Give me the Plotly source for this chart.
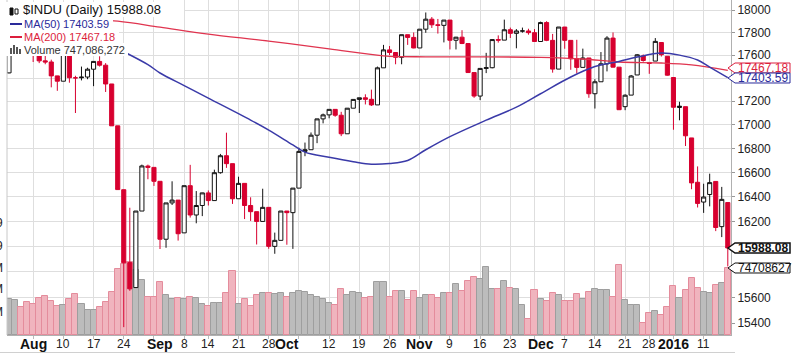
import math
import plotly.graph_objects as go

# ---------------- data ----------------
dates = ["2015-07-28","2015-07-29","2015-07-30","2015-07-31",
 "2015-08-03","2015-08-04","2015-08-05","2015-08-06","2015-08-07",
 "2015-08-10","2015-08-11","2015-08-12","2015-08-13","2015-08-14",
 "2015-08-17","2015-08-18","2015-08-19","2015-08-20","2015-08-21",
 "2015-08-24","2015-08-25","2015-08-26","2015-08-27","2015-08-28",
 "2015-08-31","2015-09-01","2015-09-02","2015-09-03","2015-09-04",
 "2015-09-08","2015-09-09","2015-09-10","2015-09-11",
 "2015-09-14","2015-09-15","2015-09-16","2015-09-17","2015-09-18",
 "2015-09-21","2015-09-22","2015-09-23","2015-09-24","2015-09-25",
 "2015-09-28","2015-09-29","2015-09-30","2015-10-01","2015-10-02",
 "2015-10-05","2015-10-06","2015-10-07","2015-10-08","2015-10-09",
 "2015-10-12","2015-10-13","2015-10-14","2015-10-15","2015-10-16",
 "2015-10-19","2015-10-20","2015-10-21","2015-10-22","2015-10-23",
 "2015-10-26","2015-10-27","2015-10-28","2015-10-29","2015-10-30",
 "2015-11-02","2015-11-03","2015-11-04","2015-11-05","2015-11-06",
 "2015-11-09","2015-11-10","2015-11-11","2015-11-12","2015-11-13",
 "2015-11-16","2015-11-17","2015-11-18","2015-11-19","2015-11-20",
 "2015-11-23","2015-11-24","2015-11-25","2015-11-27",
 "2015-11-30","2015-12-01","2015-12-02","2015-12-03","2015-12-04",
 "2015-12-07","2015-12-08","2015-12-09","2015-12-10","2015-12-11",
 "2015-12-14","2015-12-15","2015-12-16","2015-12-17","2015-12-18",
 "2015-12-21","2015-12-22","2015-12-23","2015-12-24",
 "2015-12-28","2015-12-29","2015-12-30","2015-12-31",
 "2016-01-04","2016-01-05","2016-01-06","2016-01-07","2016-01-08",
 "2016-01-11","2016-01-12","2016-01-13","2016-01-14","2016-01-15"]

opens = [17445,17630,17746,17750,
 17690,17598,17550,17540,17419,
 17373,17615,17402,17403,17409,
 17477,17545,17512,17349,16991,
 16459,15872,15676,16285,16654,
 16643,16528,16058,16351,16374,
 16109,16492,16253,16330,
 16433,16370,16599,16740,16674,
 16385,16511,16330,16280,16201,
 16315,16001,16049,16285,16272,
 16472,16776,16790,16912,17050,
 17084,17131,17081,16924,17141,
 17216,17230,17217,17169,17489,
 17646,17623,17581,17780,17756,
 17663,17829,17918,17868,17863,
 17910,17731,17758,17702,17448,
 17245,17484,17490,17737,17732,
 17824,17792,17813,17813,
 17798,17720,17888,17730,17478,
 17848,17730,17568,17493,17575,
 17265,17368,17524,17750,17495,
 17154,17253,17427,17593,
 17536,17548,17711,17590,
 17405,17147,17154,16889,16520,
 16358,16420,16527,16159,16354]

highs = [17640,17755,17770,17780,
 17700,17620,17660,17560,17420,
 17630,17615,17420,17500,17490,
 17546,17590,17530,17349,16991,
 16459,16312,16285,16666,16666,
 16643,16528,16351,16528,16374,
 16492,16664,16448,16434,
 16453,16624,16755,16933,16674,
 16566,16511,16397,16280,16467,
 16315,16111,16285,16285,16473,
 16807,16850,16935,17051,17095,
 17132,17131,17110,17142,17216,
 17230,17260,17300,17500,17690,
 17680,17623,17780,17780,17800,
 17830,17978,17937,17920,17910,
 17910,17761,17820,17702,17448,
 17484,17620,17738,17774,17914,
 17843,17830,17843,17833,
 17830,17896,17900,17787,17848,
 17848,17730,17735,17657,17575,
 17390,17627,17767,17800,17495,
 17260,17427,17610,17606,
 17536,17750,17714,17590,
 17405,17196,17154,16889,16651,
 16508,16591,16527,16482,16354]

lows = [17441,17600,17650,17670,
 17540,17530,17520,17320,17290,
 17373,17360,17100,17380,17390,
 17330,17500,17280,16990,16459,
 15370,15651,15676,16285,16545,
 16490,15980,15990,16334,16047,
 16109,16232,16186,16244,
 16330,16370,16591,16639,16343,
 16385,16220,16205,16016,16201,
 15982,15942,16049,16014,15981,
 16472,16736,16790,16845,17012,
 17055,17068,16904,16924,17141,
 17100,17173,17160,17169,17489,
 17600,17520,17520,17690,17660,
 17663,17797,17840,17790,17712,
 17650,17650,17697,17446,17230,
 17210,17443,17485,17710,17732,
 17751,17660,17798,17780,
 17720,17720,17723,17447,17478,
 17656,17472,17440,17493,17230,
 17138,17368,17458,17493,17128,
 17124,17253,17427,17543,
 17437,17548,17588,17421,
 16958,17038,16821,16463,16314,
 16270,16323,16123,16075,15842]

closes = [17630,17751,17746,17690,
 17598,17550,17540,17419,17373,
 17615,17403,17402,17408,17477,
 17545,17512,17349,16991,16460,
 15871,15666,16285,16655,16643,
 16528,16058,16351,16374,16102,
 16492,16253,16330,16433,
 16370,16599,16740,16674,16385,
 16511,16330,16280,16201,16315,
 16001,16049,16285,16272,16472,
 16776,16790,16912,17050,17084,
 17131,17081,16924,17141,17216,
 17230,17217,17169,17489,17646,
 17623,17581,17780,17756,17663,
 17829,17918,17868,17863,17910,
 17731,17758,17702,17448,17245,
 17484,17490,17737,17732,17824,
 17792,17813,17813,17798,
 17720,17888,17730,17478,17848,
 17730,17568,17493,17575,17265,
 17368,17524,17750,17495,17128,
 17252,17418,17603,17553,
 17528,17721,17604,17425,
 17149,17158,16907,16515,16347,
 16399,16517,16152,16380,15988.08]

prior_close = 17440

volumes_m = [407,388,307,370,
 344,414,440,377,322,
 340,407,462,344,277,
 277,307,370,481,732,
 795,814,721,610,425,
 425,592,451,407,414,
 407,425,414,344,
 322,359,359,470,710,
 344,407,322,451,470,
 470,455,470,425,470,
 496,477,451,422,396,
 359,333,518,451,481,
 470,414,425,592,592,
 425,488,488,388,488,
 414,444,444,414,470,
 470,573,488,599,644,
 621,754,518,511,603,
 525,518,333,174,
 499,407,377,470,451,
 377,377,455,407,481,
 510,499,499,425,784,
 388,333,333,137,
 240,266,222,307,
 547,414,499,640,529,
 481,470,562,584,747.086272]

ma50_dates = ["2015-08-24","2015-08-28","2015-09-01","2015-09-08","2015-09-14",
 "2015-09-23","2015-09-28","2015-10-02","2015-10-06","2015-10-12","2015-10-16",
 "2015-10-21","2015-10-26","2015-10-29","2015-11-03","2015-11-09","2015-11-17",
 "2015-11-24","2015-12-01","2015-12-08","2015-12-14","2015-12-18","2015-12-23",
 "2015-12-30","2016-01-05","2016-01-08","2016-01-12","2016-01-15"]
ma50_values = [17630,17517,17444,17335,17227,
 17040,16955,16830,16770,16727,16690,
 16669,16675,16700,16790,16900,17039,
 17150,17265,17409,17500,17545,17583,
 17618,17600,17557,17495,17403.59]

ma200_dates = ["2015-07-28","2015-08-10","2015-08-21","2015-09-01","2015-09-14",
 "2015-09-28","2015-10-12","2015-10-23","2015-11-03","2015-11-16","2015-12-01",
 "2015-12-10","2015-12-18","2015-12-30","2016-01-07","2016-01-15"]
ma200_values = [17960,17935,17900,17847,17786,
 17724,17655,17594,17585,17585,17580,
 17566,17540,17531,17514,17467.18]

price_ticks = [15400,15600,15800,16000,16200,16400,16600,16800,17000,
               17200,17400,17600,17800,18000]
price_tick_text = ["15400","15600","","","16200","16400","16600","16800","17000",
                   "17200","","17600","17800","18000"]

xlabel_dates = ["2015-08-03","2015-08-10","2015-08-17","2015-08-24","2015-09-01",
 "2015-09-08","2015-09-14","2015-09-21","2015-09-28","2015-10-01","2015-10-12",
 "2015-10-19","2015-10-26","2015-11-02","2015-11-09","2015-11-16","2015-11-23",
 "2015-12-01","2015-12-07","2015-12-14","2015-12-21","2015-12-28","2016-01-04",
 "2016-01-11"]
xlabel_text = ["Aug","10","17","24","Sep","8","14","21","28","Oct","12","19","26",
 "Nov","9","16","23","Dec","7","14","21","28","2016","11"]
xlabel_bold = ["Aug","Sep","Oct","Nov","Dec","2016"]

week_dates = ["2015-08-03","2015-08-10","2015-08-17","2015-08-24","2015-08-31",
 "2015-09-08","2015-09-14","2015-09-21","2015-09-28","2015-10-05","2015-10-12",
 "2015-10-19","2015-10-26","2015-11-02","2015-11-09","2015-11-16","2015-11-23",
 "2015-11-30","2015-12-07","2015-12-14","2015-12-21","2015-12-28","2016-01-04",
 "2016-01-11"]

# ---------------- helpers ----------------
idx = {d: i for i, d in enumerate(dates)}
RED = "#d7002f"
BLACK = "#111111"
W, H = 800, 354
L, R, T, B = 7, 69, 0, 19
PW, PH = W - L - R, H - T - B

def px_x(p):
    return (p - L) / PW

def px_y(p):
    return 1 - (p - T) / PH

prev = [prior_close] + closes[:-1]
groups = {"bh": [], "bf": [], "rh": [], "rf": []}
for i in range(len(dates)):
    up = closes[i] >= prev[i]
    hollow = closes[i] >= opens[i]
    key = ("b" if up else "r") + ("h" if hollow else "f")
    groups[key].append(i)

style = {"bh": (BLACK, "white"), "bf": (BLACK, BLACK),
         "rh": (RED, "white"), "rf": (RED, RED)}

fig = go.Figure()

# volume (base axis, drawn beneath price)
vcol, vline = [], []
for i in range(len(dates)):
    if closes[i] >= prev[i]:
        vcol.append("#bcbcbc"); vline.append("#9e9e9e")
    else:
        vcol.append("#f0b4be"); vline.append("#e48c9c")
fig.add_trace(go.Bar(x=list(range(len(dates))), y=volumes_m, width=1.0,
                     marker=dict(color=vcol, line=dict(color=vline, width=1)),
                     yaxis="y", showlegend=False, hoverinfo="skip"))

for key, ids in groups.items():
    if not ids:
        continue
    lc, fc = style[key]
    fig.add_trace(go.Candlestick(
        x=ids, open=[opens[i] for i in ids], high=[highs[i] for i in ids],
        low=[lows[i] for i in ids], close=[closes[i] for i in ids],
        increasing=dict(line=dict(color=lc, width=1), fillcolor=fc),
        decreasing=dict(line=dict(color=lc, width=1), fillcolor=fc),
        whiskerwidth=0, yaxis="y2", showlegend=False, hoverinfo="skip"))

fig.add_trace(go.Scatter(x=[idx[d] for d in ma200_dates], y=ma200_values, mode="lines",
                         line=dict(color="#e0344f", width=1.3, shape="spline"),
                         yaxis="y2", showlegend=False, hoverinfo="skip"))
fig.add_trace(go.Scatter(x=[idx[d] for d in ma50_dates], y=ma50_values, mode="lines",
                         line=dict(color="#3a3aa8", width=1.5, shape="spline"),
                         yaxis="y2", showlegend=False, hoverinfo="skip"))

lo, hi = 15310, 18090

fig.update_layout(
    width=W, height=H, margin=dict(l=L, r=R, t=T, b=B, autoexpand=False),
    paper_bgcolor="white", plot_bgcolor="white",
    bargap=0, boxgap=0.2, boxgroupgap=0.15,
    font=dict(family="Liberation Sans, Arial, sans-serif", size=12, color="#222"),
    xaxis=dict(range=[-0.33, len(dates) - 0.47], tickvals=[idx[d] for d in week_dates],
               showticklabels=False, showgrid=True, gridcolor="#dedede", gridwidth=1,
               ticks="outside", ticklen=3, tickcolor="#bbb",
               zeroline=False, showline=True, linecolor="#b0b0b0",
               automargin=False, rangeslider=dict(visible=False)),
    yaxis=dict(range=[0, 3735], visible=False, fixedrange=True, automargin=False),
    yaxis2=dict(type="log", range=[math.log10(lo), math.log10(hi)], overlaying="y", side="right",
                tickvals=price_ticks, ticktext=price_tick_text, automargin=False,
                showgrid=True, gridcolor="#dedede", gridwidth=1,
                ticks="outside", ticklen=3, tickcolor="#999", showline=True, linecolor="#b0b0b0",
                tickfont=dict(size=12, color="#222"), zeroline=False),
)

shapes = []
annotations = []

# x-axis date labels placed on the x scale
for d, t in zip(xlabel_dates, xlabel_text):
    bold = t in xlabel_bold
    annotations.append(dict(text=("<b>%s</b>" % t) if bold else t, x=idx[d], xref="x",
                            y=px_y(344), yref="paper", xanchor="center", yanchor="middle",
                            showarrow=False,
                            font=dict(size=14 if bold else 12, color="#111" if bold else "#222")))

# left border line
shapes.append(dict(type="line", xref="paper", yref="paper", x0=0, x1=0, y0=0, y1=1,
                   line=dict(color="#c8c8c8", width=1)))
# bottom frame line under labels
shapes.append(dict(type="line", xref="paper", yref="paper", x0=px_x(0), x1=px_x(735),
                   y0=px_y(352.5), y1=px_y(352.5), line=dict(color="#d0d0d0", width=1)))

# legend backgrounds
for (x0, y0, x1, y1) in [(0, 2, 184, 17), (0, 17, 113, 30), (0, 30, 119, 43), (0, 43, 128, 56)]:
    shapes.append(dict(type="rect", xref="paper", yref="paper", x0=px_x(x0), x1=px_x(x1),
                       y0=px_y(y1), y1=px_y(y0), fillcolor="white", line=dict(width=0),
                       layer="above"))
# legend icons
shapes.append(dict(type="rect", xref="paper", yref="paper", x0=px_x(10), x1=px_x(13),
                   y0=px_y(15), y1=px_y(8), fillcolor="#111", line=dict(color="#111", width=1),
                   layer="above"))
shapes.append(dict(type="rect", xref="paper", yref="paper", x0=px_x(15), x1=px_x(18),
                   y0=px_y(14), y1=px_y(9), fillcolor="white", line=dict(color="#111", width=1),
                   layer="above"))
shapes.append(dict(type="line", xref="paper", yref="paper", x0=px_x(10), x1=px_x(22),
                   y0=px_y(24), y1=px_y(24), line=dict(color="#2a2a9a", width=2), layer="above"))
shapes.append(dict(type="line", xref="paper", yref="paper", x0=px_x(10), x1=px_x(22),
                   y0=px_y(37), y1=px_y(37), line=dict(color="#dc1e3c", width=2), layer="above"))
for bx, bt in [(10, 48), (13, 45), (16, 47), (19, 49)]:
    shapes.append(dict(type="rect", xref="paper", yref="paper", x0=px_x(bx), x1=px_x(bx + 2),
                       y0=px_y(54), y1=px_y(bt), fillcolor="#555", line=dict(width=0),
                       layer="above"))

legend_ann = [
    dict(text="$INDU (Daily) 15988.08", x=px_x(21), y=px_y(10), font=dict(size=13, color="#111")),
    dict(text="MA(50) 17403.59", x=px_x(22), y=px_y(24), font=dict(size=11, color="#2a2a9a")),
    dict(text="MA(200) 17467.18", x=px_x(22), y=px_y(37), font=dict(size=11, color="#dc1e3c")),
    dict(text="Volume 747,086,272", x=px_x(22), y=px_y(50), font=dict(size=11, color="#333")),
]
for a in legend_ann:
    a.update(xref="paper", yref="paper", xanchor="left", yanchor="middle", showarrow=False)
annotations += legend_ann

# right-side value tags
def tag(yc, col, text, bold=False, lw=1):
    x_tip, x_l, x_r = 728, 735, 790
    h = 5
    path = "M %f,%f L %f,%f L %f,%f L %f,%f L %f,%f Z" % (
        px_x(x_tip), px_y(yc), px_x(x_l), px_y(yc - h), px_x(x_r), px_y(yc - h),
        px_x(x_r), px_y(yc + h), px_x(x_l), px_y(yc + h))
    shapes.append(dict(type="path", xref="paper", yref="paper", path=path,
                       fillcolor="white", line=dict(color=col, width=lw), layer="above"))
    t = "<b>%s</b>" % text if bold else text
    annotations.append(dict(text=t, x=px_x(736), y=px_y(yc), xref="paper", yref="paper",
                            xanchor="left", yanchor="middle", showarrow=False,
                            font=dict(size=12, color="#111" if col == BLACK else col)))

tag(68, "#dc1e3c", "17467.18")
tag(78, "#2a2a9a", "17403.59")
tag(248, BLACK, "15988.08", bold=True, lw=1.5)
tag(268, BLACK, "74708627")

# partially visible left-axis labels
for yy, t in [(223, "9"), (246, "9"), (268, "M"), (289, "M"), (312, "M")]:
    annotations.append(dict(text=t, x=px_x(5), y=px_y(yy), xref="paper", yref="paper",
                            xanchor="right", yanchor="middle", showarrow=False,
                            font=dict(size=12, color="#222")))

fig.update_layout(shapes=shapes, annotations=annotations)
fig.write_html("out.html")
